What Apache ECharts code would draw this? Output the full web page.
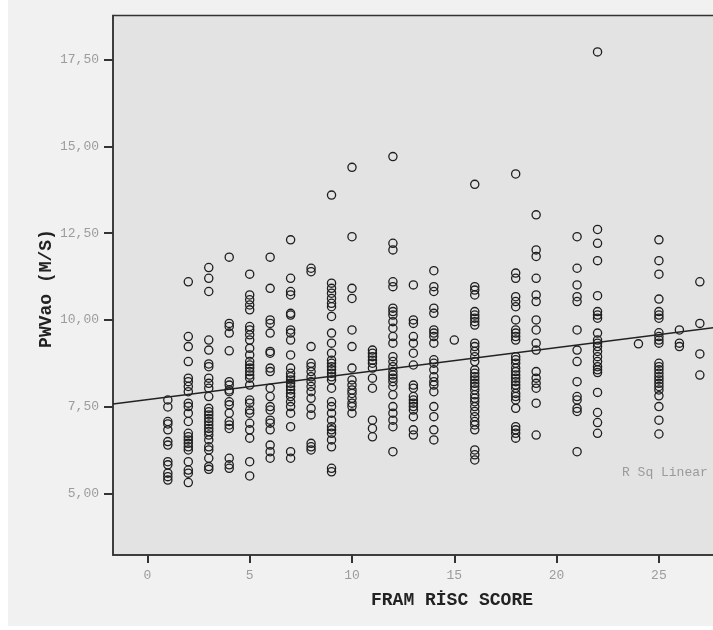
<!DOCTYPE html>
<html>
<head>
<meta charset="utf-8">
<script src="https://cdn.jsdelivr.net/npm/echarts@6.0.0/dist/echarts.min.js"></script>
<style>
  html, body { margin: 0; padding: 0; background: #ffffff; }
  #chart { width: 713px; height: 630px; }
</style>
</head>
<body>
<div id="chart"></div>
<script>
// ---- Data ----
const xTitle = 'FRAM RİSC SCORE';
const yTitle = 'PWVao (M/S)';
const fitLabel = 'R Sq Linear';

const xTicks = [0, 5, 10, 15, 20, 25];
const yTicks = [5, 7.5, 10, 12.5, 15, 17.5];

const scores = [1, 2, 3, 4, 5, 6, 7, 8, 9, 10, 11, 12, 13, 14, 15, 16, 18, 19, 21, 22, 24, 25, 26, 27];

const pwv01 = [7.69, 7.49, 7.07, 7.00, 6.83, 6.49, 6.39, 5.91, 5.82, 5.58, 5.48, 5.38];
const pwv02 = [11.10, 9.52, 9.23, 8.80, 8.32, 8.22, 8.08, 7.93, 7.60, 7.50, 7.31, 7.07, 6.73, 6.63, 6.54, 6.44, 6.34, 6.25, 5.91, 5.67, 5.58, 5.31];
const pwv03 = [11.51, 11.20, 10.82, 9.42, 9.13, 8.73, 8.65, 8.32, 8.17, 8.03, 7.79, 7.45, 7.35, 7.26, 7.16, 7.07, 6.97, 6.87, 6.78, 6.68, 6.54, 6.34, 6.25, 6.01, 5.77, 5.69];
const pwv04 = [11.81, 9.90, 9.81, 9.62, 9.11, 8.22, 8.12, 7.98, 7.93, 7.64, 7.55, 7.31, 7.07, 6.97, 6.87, 6.01, 5.82, 5.72];
const pwv05 = [11.32, 10.72, 10.58, 10.43, 10.29, 9.81, 9.71, 9.57, 9.42, 9.18, 8.99, 8.80, 8.70, 8.61, 8.51, 8.41, 8.32, 8.12, 7.69, 7.60, 7.40, 7.31, 7.02, 6.83, 6.59, 5.91, 5.50];
const pwv06 = [11.81, 10.91, 10.00, 9.90, 9.62, 9.09, 9.04, 8.61, 8.51, 8.03, 7.79, 7.50, 7.40, 7.11, 7.02, 6.83, 6.39, 6.20, 6.01];
const pwv07 = [12.31, 11.20, 10.82, 10.72, 10.19, 10.14, 9.71, 9.62, 9.42, 8.99, 8.61, 8.46, 8.36, 8.27, 8.17, 8.08, 7.98, 7.88, 7.79, 7.64, 7.50, 7.31, 6.92, 6.20, 6.01];
const pwv08 = [11.49, 11.39, 9.23, 8.75, 8.65, 8.51, 8.36, 8.22, 8.08, 7.93, 7.74, 7.45, 7.26, 6.44, 6.34, 6.25];
const pwv09 = [13.60, 11.06, 10.91, 10.77, 10.62, 10.48, 10.38, 10.10, 9.62, 9.33, 9.04, 8.84, 8.75, 8.65, 8.56, 8.46, 8.36, 8.27, 8.03, 7.64, 7.50, 7.31, 7.11, 6.92, 6.83, 6.73, 6.54, 6.34, 5.72, 5.62];
const pwv10 = [14.40, 12.40, 10.91, 10.62, 9.71, 9.23, 8.61, 8.27, 8.12, 7.98, 7.88, 7.74, 7.60, 7.50, 7.31];
const pwv11 = [9.13, 9.04, 8.94, 8.84, 8.75, 8.61, 8.32, 8.03, 7.11, 6.87, 6.63];
const pwv12 = [14.71, 12.21, 12.02, 11.10, 10.96, 10.34, 10.24, 10.14, 9.95, 9.76, 9.52, 9.33, 8.94, 8.80, 8.65, 8.51, 8.41, 8.32, 8.22, 8.08, 7.84, 7.50, 7.31, 7.11, 6.92, 6.20];
const pwv13 = [11.01, 10.00, 9.90, 9.52, 9.33, 9.04, 8.70, 8.12, 8.03, 7.79, 7.69, 7.60, 7.50, 7.40, 7.21, 6.83, 6.68];
const pwv14 = [11.42, 10.96, 10.82, 10.34, 10.19, 9.71, 9.62, 9.52, 9.33, 8.85, 8.75, 8.56, 8.36, 8.22, 8.12, 7.93, 7.50, 7.21, 6.83, 6.54];
const pwv15 = [9.42];
const pwv16 = [13.91, 10.96, 10.86, 10.72, 10.24, 10.14, 10.05, 9.95, 9.85, 9.33, 9.23, 9.09, 8.94, 8.80, 8.56, 8.46, 8.36, 8.27, 8.17, 8.08, 7.98, 7.84, 7.74, 7.64, 7.50, 7.36, 7.21, 7.07, 6.97, 6.83, 6.25, 6.11, 5.96];
const pwv18 = [14.21, 11.35, 11.20, 10.67, 10.53, 10.38, 10.00, 9.71, 9.62, 9.52, 9.42, 8.94, 8.85, 8.75, 8.61, 8.51, 8.41, 8.32, 8.22, 8.12, 8.03, 7.88, 7.79, 7.69, 7.45, 6.92, 6.83, 6.73, 6.59];
const pwv19 = [13.03, 12.02, 11.83, 11.20, 10.72, 10.53, 10.00, 9.71, 9.33, 9.13, 8.51, 8.32, 8.17, 8.03, 7.60, 6.68];
const pwv21 = [12.40, 11.49, 11.01, 10.67, 10.53, 9.71, 9.13, 8.80, 8.22, 7.79, 7.69, 7.45, 7.36, 6.20];
const pwv22 = [17.73, 12.61, 12.21, 11.71, 10.70, 10.24, 10.14, 10.05, 9.62, 9.42, 9.33, 9.23, 9.09, 8.94, 8.80, 8.65, 8.56, 8.48, 7.91, 7.33, 7.04, 6.73];
const pwv24 = [9.31];
const pwv25 = [12.31, 11.71, 11.32, 10.60, 10.24, 10.14, 10.05, 9.63, 9.52, 9.42, 9.33, 8.75, 8.65, 8.56, 8.46, 8.36, 8.27, 8.17, 8.08, 7.98, 7.81, 7.50, 7.11, 6.71];
const pwv26 = [9.71, 9.33, 9.23];
const pwv27 = [11.10, 9.90, 9.02, 8.41];

const pwvColumns = [pwv01, pwv02, pwv03, pwv04, pwv05, pwv06, pwv07, pwv08, pwv09, pwv10, pwv11, pwv12,
  pwv13, pwv14, pwv15, pwv16, pwv18, pwv19, pwv21, pwv22, pwv24, pwv25, pwv26, pwv27];

// Linear fit line
const fitIntercept = 7.70;
const fitSlope = 0.075;

// Axis extents as seen in the picture (the plot continues past the right edge)
const xMin = -1.68, xMax = 29.5;
const yMin = 3.22, yMax = 18.78;

// ---- Build series data ----
const points = [];
scores.forEach((s, i) => pwvColumns[i].forEach(v => points.push([s, v])));
const fitLine = [[xMin, fitIntercept + fitSlope * xMin], [xMax, fitIntercept + fitSlope * xMax]];

const monoFont = '"Liberation Mono", "DejaVu Sans Mono", monospace';

const chart = echarts.init(document.getElementById('chart'), null, { renderer: 'canvas' });
chart.setOption({
  animation: false,
  backgroundColor: '#f1f1f1',
  grid: {
    left: 113, top: 15.5, width: 638, height: 539.5,
    show: true, backgroundColor: '#e3e3e3', borderColor: '#333', borderWidth: 1.5,
    containLabel: false, outerBoundsMode: 'none'
  },
  xAxis: {
    type: 'value', min: xMin, max: xMax,
    axisLine: { show: true, onZero: false, lineStyle: { color: '#333', width: 1.5 } },
    axisTick: { show: true, length: 8, customValues: xTicks, lineStyle: { color: '#333', width: 2 } },
    axisLabel: {
      customValues: xTicks, margin: 14, color: '#9c9c9c', fontFamily: monoFont, fontSize: 13,
      formatter: v => String(Math.round(v))
    },
    splitLine: { show: false }
  },
  yAxis: {
    type: 'value', min: yMin, max: yMax,
    axisLine: { show: true, onZero: false, lineStyle: { color: '#333', width: 1.5 } },
    axisTick: { show: true, length: 9, customValues: yTicks, lineStyle: { color: '#333', width: 2 } },
    axisLabel: {
      customValues: yTicks, margin: 14, color: '#9c9c9c', fontFamily: monoFont, fontSize: 13,
      formatter: v => v.toFixed(2).replace('.', ',')
    },
    splitLine: { show: false }
  },
  graphic: [
    { type: 'rect', left: 0, top: 0, shape: { width: 8, height: 630 }, style: { fill: '#ffffff' }, z: -10 },
    { type: 'rect', left: 0, top: 626, shape: { width: 713, height: 4 }, style: { fill: '#ffffff' }, z: -10 },
    {
      type: 'text', x: 46.5, y: 288.5, rotation: Math.PI / 2, z: 100,
      style: { text: yTitle, fill: '#222', font: 'bold 18px ' + monoFont, textAlign: 'center', textVerticalAlign: 'middle' }
    },
    {
      type: 'text', x: 452, y: 600, z: 100,
      style: { text: xTitle, fill: '#222', font: 'bold 18px ' + monoFont, textAlign: 'center', textVerticalAlign: 'middle' }
    },
    {
      type: 'text', x: 622, y: 473, z: 100,
      style: { text: fitLabel, fill: '#9a9a9a', font: '13px ' + monoFont, textAlign: 'left', textVerticalAlign: 'middle' }
    }
  ],
  series: [
    {
      type: 'scatter', data: points, symbol: 'circle', symbolSize: 8.2,
      itemStyle: { color: 'rgba(0,0,0,0)', borderColor: '#1e1e1e', borderWidth: 1.3, opacity: 1 },
      emphasis: { disabled: true }, silent: true, z: 3
    },
    {
      type: 'line', data: fitLine, symbol: 'none', clip: true,
      lineStyle: { color: '#222', width: 1.4 }, silent: true, z: 4
    }
  ]
});
</script>
</body>
</html>
